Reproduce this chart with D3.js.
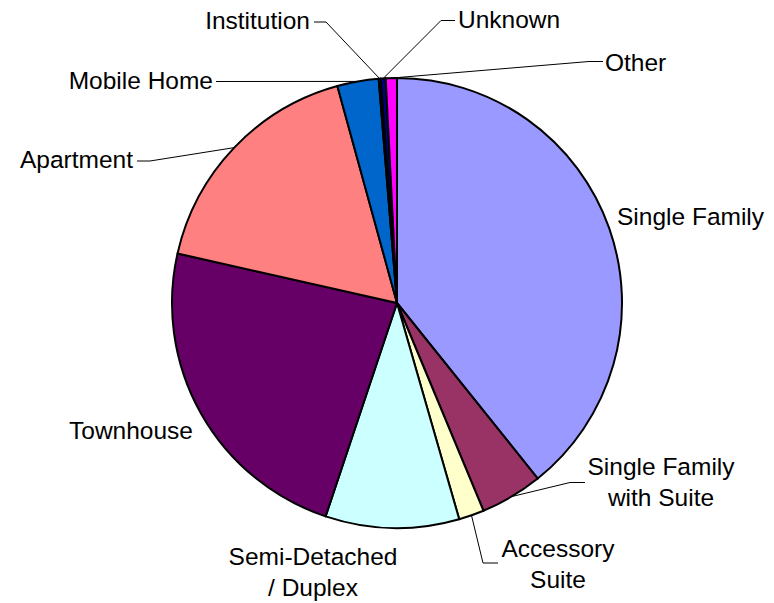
<!DOCTYPE html>
<html>
<head>
<meta charset="utf-8">
<script src="https://cdn.jsdelivr.net/npm/d3@7"></script>
<style>
  html, body { margin: 0; padding: 0; background: #fff; }
  svg { display: block; }
  text { font-family: "Liberation Sans", Arial, sans-serif; font-size: 24.5px; fill: #000; }
</style>
</head>
<body>
<svg id="chart" width="774" height="603"></svg>
<script>
// ---- data ----
const categories = ["Single Family", "Single Family with Suite", "Accessory Suite", "Semi-Detached / Duplex",
  "Townhouse", "Apartment", "Mobile Home", "Institution", "Unknown", "Other"];
const shares = [39.25, 4.48, 1.82, 9.6, 23.4, 17.2, 2.97, 0.15, 0.35, 0.8];
const colors = ["#9999FF", "#993366", "#FFFFCC", "#CCFFFF", "#660066", "#FF8080", "#0066CC", "#CCCCFF", "#000080", "#FF00FF"];

// ---- label layout (lines of text, anchor, position; optional leader elbow) ----
const labelLayout = [
  { lines: ["Single Family"], anchor: "start", x: 617, y: 225 },
  { lines: ["Single Family", "with Suite"], anchor: "middle", x: 661, y: 475, elbow: [570, 482.5], end: [585, 482.5] },
  { lines: ["Accessory", "Suite"], anchor: "middle", x: 558, y: 557, elbow: [483, 563], end: [498, 563] },
  { lines: ["Semi-Detached", "/ Duplex"], anchor: "middle", x: 313, y: 565 },
  { lines: ["Townhouse"], anchor: "end", x: 193, y: 439 },
  { lines: ["Apartment"], anchor: "end", x: 133, y: 168, elbow: [150, 161], end: [137, 161] },
  { lines: ["Mobile Home"], anchor: "end", x: 213, y: 89, elbow: null, end: [216, 81.5] },
  { lines: ["Institution"], anchor: "end", x: 310, y: 29, elbow: [326, 22], end: [314, 22] },
  { lines: ["Unknown"], anchor: "start", x: 458, y: 28, elbow: [441, 20.5], end: [455, 20.5] },
  { lines: ["Other"], anchor: "start", x: 605, y: 71, elbow: [589, 61.5], end: [603, 61.5] }
];

const cx = 397, cy = 303, R = 225;
const svg = d3.select("#chart");
const g = svg.append("g").attr("transform", `translate(${cx},${cy})`);

const pie = d3.pie().sort(null).value(d => d);
const arcs = pie(shares);
const arc = d3.arc().innerRadius(0).outerRadius(R);

g.selectAll("path.slice")
  .data(arcs)
  .enter().append("path")
  .attr("class", "slice")
  .attr("d", arc)
  .attr("fill", (d, i) => colors[i])
  .attr("stroke", "#000")
  .attr("stroke-width", 2)
  .attr("stroke-linejoin", "round");

// leader lines
const lineGen = d3.line();
arcs.forEach((d, i) => {
  const L = labelLayout[i];
  if (!L.end) return;
  const mid = (d.startAngle + d.endAngle) / 2;
  const px = cx + R * Math.sin(mid), py = cy - R * Math.cos(mid);
  const pts = [[px, py]];
  if (L.elbow) pts.push(L.elbow);
  pts.push(L.end);
  svg.append("path")
    .attr("d", lineGen(pts))
    .attr("fill", "none")
    .attr("stroke", "#000")
    .attr("stroke-width", 1);
});

// labels
labelLayout.forEach((L, i) => {
  const t = svg.append("text")
    .attr("text-anchor", L.anchor)
    .attr("x", L.x).attr("y", L.y);
  L.lines.forEach((s, k) => {
    t.append("tspan").attr("x", L.x).attr("dy", k === 0 ? 0 : 31).text(s);
  });
});
</script>
</body>
</html>
